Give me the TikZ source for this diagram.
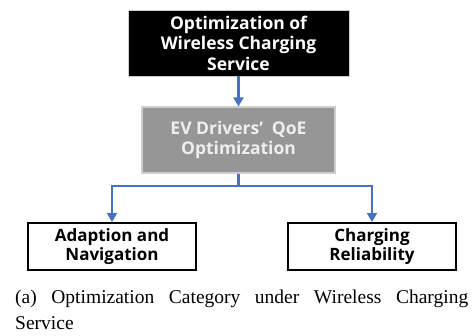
\documentclass[tikz,border=0pt]{standalone}
\usepackage{fontspec}
\setmainfont{Liberation Serif}
\newfontfamily\boxfont{Open Sans}[BoldFont={* Bold}]
\usetikzlibrary{arrows.meta}
\definecolor{flowblue}{RGB}{68,114,196}
\definecolor{midgray}{RGB}{150,150,150}
\definecolor{lightedge}{RGB}{205,205,205}
\definecolor{paletext}{RGB}{238,238,238}
\tikzset{
  x=1pt, y=1pt,
  boxtext/.style={font=\boxfont\bfseries\fontsize{17.5}{20.5}\selectfont, align=center, inner sep=0pt},
  topbox/.style={boxtext, fill=black, draw=lightedge, line width=0.8pt, text=white, minimum width=221pt, minimum height=66pt},
  midbox/.style={boxtext, fill=midgray, draw=lightedge, line width=1.2pt, text=paletext, minimum width=193pt, minimum height=66pt},
  leafbox/.style={boxtext, font=\boxfont\bfseries\fontsize{17}{19.5}\selectfont, fill=white, draw=black, line width=2pt, text=black, minimum width=168pt, minimum height=47pt},
  link/.style={draw=flowblue, line width=2.4pt},
  flow/.style={link, -{Triangle[length=9pt,width=10pt]}}
}
\begin{document}
\begin{tikzpicture}
\useasboundingbox (0,0) rectangle (473,335);
\node[topbox] (top) at (238.5,292) {Optimization of\\Wireless Charging\\Service};
\node[midbox] (qoe) at (238.5,195) {EV Drivers’\hspace{0.5em}QoE\\Optimization};
\node[leafbox] (nav) at (112,88.5) {Adaption and\\Navigation};
\node[leafbox] (rel) at (372,88.5) {Charging\\Reliability};
\coordinate (split) at (238.5,149);
\draw[flow] (top) -- (qoe);
\draw[link] (qoe.south) -- (split);
\draw[flow] (split) -| (nav.north);
\draw[flow] (split) -| (rel.north);
% caption, first line stretched to the full width
\node[anchor=north west, inner sep=0pt, text width=453pt, align=justify, font=\fontsize{19.5}{26}\selectfont] (cap) at (15,45)
  {(a) Optimization Category under Wireless Charging\linebreak Service};
\end{tikzpicture}
\end{document}
